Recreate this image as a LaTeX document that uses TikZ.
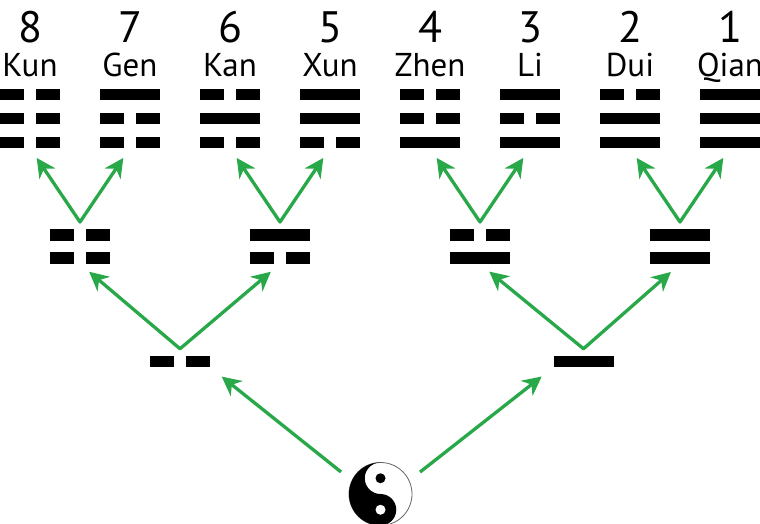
\documentclass[tikz,border=0pt]{standalone}
\usepackage{fontspec}
\setmainfont{PT Sans}
\usetikzlibrary{arrows.meta}

\definecolor{treegreen}{RGB}{40,168,72}

\tikzset{
    gram/.style={minimum width=60pt, minimum height=#1, inner sep=0pt, outer sep=0pt},
    number/.style={anchor=base, inner sep=0pt, font=\fontsize{44pt}{44pt}\selectfont},
    title/.style={anchor=base, inner sep=0pt, font=\fontsize{33pt}{33pt}\selectfont},
    forkarrow/.style={draw=treegreen, line width=3.3pt, line join=round,
        {Stealth[length=19pt,width=19pt,inset=6pt]}-{Stealth[length=19pt,width=19pt,inset=6pt]},
        shorten <=12pt, shorten >=12pt},
    risearrow/.style={draw=treegreen, line width=3.3pt,
        -{Stealth[length=19pt,width=19pt,inset=6pt]},
        shorten <=14pt, shorten >=15pt},
}

\newcommand{\gbar}[3]{%
    \ifnum#3=1\relax
        \fill ([yshift=-#2pt]#1.north west) rectangle ++(60,-11.5);
    \else
        \fill ([yshift=-#2pt]#1.north west) rectangle ++(24,-11.5);
        \fill ([shift={(36pt,-#2pt)}]#1.north west) rectangle ++(24,-11.5);
    \fi}

\begin{document}
\begin{tikzpicture}[x=1pt, y=1pt]
    \useasboundingbox (0,0) rectangle (760,523);

    \foreach \name/\x/\nr/\trig/\a/\b/\c in {kun/30/8/Kun/0/0/0, gen/130/7/Gen/1/0/0,
            kan/230/6/Kan/0/1/0, xun/330/5/Xun/1/1/0, zhen/430/4/Zhen/0/0/1,
            li/530/3/Li/1/0/1, dui/630/2/Dui/0/1/1, qian/730/1/Qian/1/1/1} {
        \node[gram=59pt] (\name) at (\x,404.5) {};
        \node[number] (\name-nr) at (\x,480) {\nr};
        \node[title] (\name-title) at (\x,446) {\trig};
        \foreach \v/\off in {\a/0,\b/24,\c/48}
            {\gbar{\name}{\off}{\v}}
    }

    \foreach \name/\x/\a/\b in {d1/80/0/0, d2/280/1/0, d3/480/0/1, d4/680/1/1} {
        \node[gram=35pt] (\name) at (\x,276.5) {};
        \foreach \v/\off in {\a/0,\b/23}
            {\gbar{\name}{\off}{\v}}
        \coordinate (\name-fork) at ([yshift=7pt]\name.north);
    }

    \node[gram=11.5pt] (yin) at (180,161.5) {};
    \gbar{yin}{0}{0}
    \node[gram=11.5pt] (yang) at (583.5,161.5) {};
    \gbar{yang}{0}{1}
    \coordinate (yin-fork) at ([yshift=7pt]yin.north);
    \coordinate (yang-fork) at ([yshift=7pt]yang.north);

    \node[circle, draw=black!60, line width=0.8pt, minimum size=63pt, inner sep=0pt, outer sep=0pt] (taiji) at (380.5,29) {};
    \fill (taiji.north) arc[start angle=90, end angle=270, radius=31.5]
        arc[start angle=270, end angle=450, radius=15.75]
        arc[start angle=270, end angle=90, radius=15.75] -- cycle;
    \fill ([yshift=15.75pt]taiji.center) circle[radius=5];
    \fill[white] ([yshift=-15.75pt]taiji.center) circle[radius=5];

    \draw[forkarrow] (kun.south) -- (d1-fork) -- (gen.south);
    \draw[forkarrow] (kan.south) -- (d2-fork) -- (xun.south);
    \draw[forkarrow] (zhen.south) -- (d3-fork) -- (li.south);
    \draw[forkarrow] (dui.south) -- (d4-fork) -- (qian.south);
    \draw[forkarrow] (d1.south) -- (yin-fork) -- (d2.south);
    \draw[forkarrow] (d3.south) -- (yang-fork) -- (d4.south);
    \draw[risearrow] (taiji.155) -- (yin.south east);
    \draw[risearrow] (taiji.25) -- (yang.south west);
\end{tikzpicture}
\end{document}
